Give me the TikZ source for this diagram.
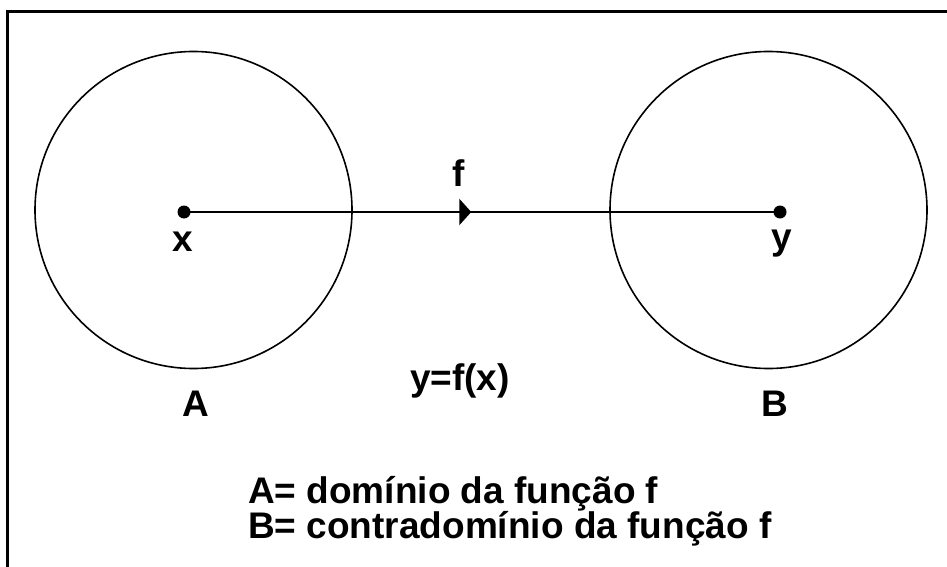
\documentclass[tikz,border=0pt]{standalone}
\usepackage{fontspec}
\setmainfont{Liberation Sans}
\usetikzlibrary{arrows.meta, decorations.markings}

\begin{document}
\begin{tikzpicture}[
    x=1pt, y=-1pt,
    set/.style={circle, draw=black, line width=1.6pt, minimum size=317pt, inner sep=0pt},
    dot/.style={circle, fill=black, inner sep=0pt, minimum size=13pt},
    lbl/.style={font=\fontsize{37}{40}\selectfont\bfseries, inner sep=0pt, anchor=base},
    note/.style={font=\fontsize{37}{40}\selectfont\bfseries, inner sep=0pt, anchor=base west},
    map/.style={line width=2.6pt, postaction={decorate},
        decoration={markings, mark=at position 0.482 with {\arrow{Triangle[length=12pt, width=26pt]}}}}
]
\useasboundingbox (0,0) rectangle (947,567);
% frame (left and top edge only)
\draw[line width=3pt] (7.5,567) -- (7.5,11.5) -- (947,11.5);

% the two sets
\node[set] (A) at (193.5,210) {};
\node[set] (B) at (768.5,210) {};

% points and mapping
\node[dot] (x) at (184,212) {};
\node[dot] (y) at (780,212) {};
\draw[map] (x.center) -- (y.center);

\node[lbl] (xl) at (183,251) {x};
\node[lbl] (yl) at (782,249) {y};
\node[lbl] (fl) at (459,186) {f};
\node[lbl] (Al) at (196,416) {A};
\node[lbl] (Bl) at (775,416) {B};
\node[lbl] (rule) at (460,390) {y=f(x)};

% legend
\node[note] (dom) at (248,503) {A= domínio da função f};
\node[note] (cod) at (248,538) {B= contradomínio da função f};
\end{tikzpicture}
\end{document}
